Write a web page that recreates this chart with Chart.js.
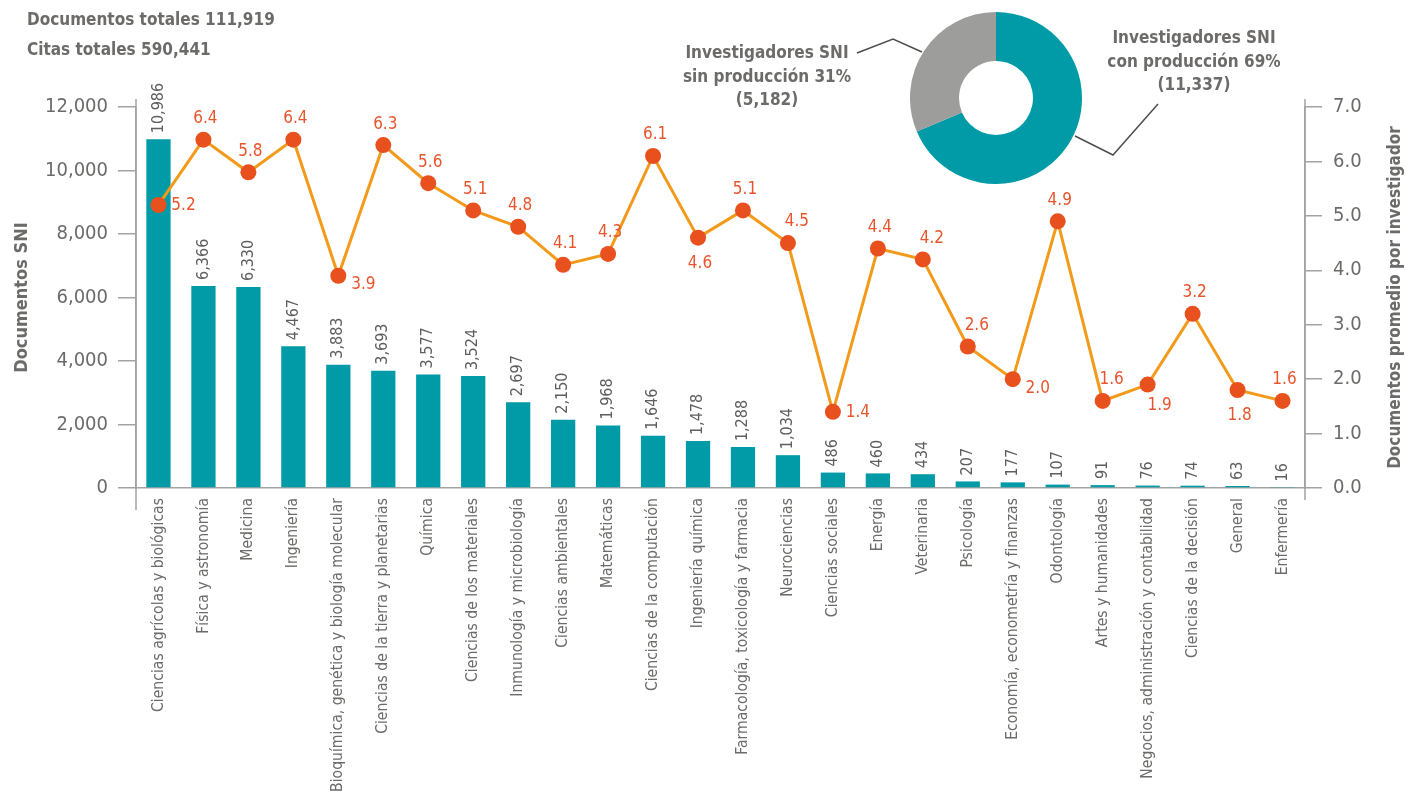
<!DOCTYPE html>
<html lang="es">
<head>
<meta charset="utf-8">
<title>Documentos SNI por área</title>
<script src="https://cdn.jsdelivr.net/npm/chart.js@4.4.1/dist/chart.umd.min.js"></script>
<style>
  body { margin: 0; background: #fff; }
  #wrap { position: relative; width: 1412px; height: 802px; overflow: hidden;
          font-family: 'Liberation Sans Narrow', 'DejaVu Sans Condensed', 'Roboto Condensed', 'Liberation Sans', sans-serif; }
  #main { position: absolute; left: 0; top: 0; }
  #dona { position: absolute; left: 910px; top: 12px; }
  .txt { position: absolute; color: #6d6b69; font-weight: bold; white-space: nowrap; }
  .totales { left: 27px; font-size: 17px; line-height: 30px; top: 4px; }
  .dlab { font-size: 17px; line-height: 23.5px; text-align: center; }
</style>
</head>
<body>
<div id="wrap">
  <canvas id="main" width="1412" height="802"></canvas>
  <canvas id="dona" width="172" height="172"></canvas>
  <div class="txt totales">Documentos totales 111,919<br>Citas totales 590,441</div>
  <div class="txt dlab" style="left:675px; top:41px; width:184px;">Investigadores SNI<br>sin producción 31%<br>(5,182)</div>
  <div class="txt dlab" style="left:1099px; top:26px; width:190px;">Investigadores SNI<br>con producción 69%<br>(11,337)</div>
</div>
<script>
// datos
const categorias = [
  'Ciencias agrícolas y biológicas', 'Física y astronomía', 'Medicina', 'Ingeniería',
  'Bioquímica, genética y biología molecular', 'Ciencias de la tierra y planetarias', 'Química',
  'Ciencias de los materiales', 'Inmunología y microbiología', 'Ciencias ambientales',
  'Matemáticas', 'Ciencias de la computación', 'Ingeniería química',
  'Farmacología, toxicología y farmacia', 'Neurociencias', 'Ciencias sociales', 'Energía',
  'Veterinaria', 'Psicología', 'Economía, econometría y finanzas', 'Odontología',
  'Artes y humanidades', 'Negocios, administración y contabilidad', 'Ciencias de la decisión',
  'General', 'Enfermería'
];
const documentosSNI = [10986, 6366, 6330, 4467, 3883, 3693, 3577, 3524, 2697, 2150, 1968, 1646,
  1478, 1288, 1034, 486, 460, 434, 207, 177, 107, 91, 76, 74, 63, 16];
const promedioInvestigador = [5.2, 6.4, 5.8, 6.4, 3.9, 6.3, 5.6, 5.1, 4.8, 4.1, 4.3, 6.1, 4.6, 5.1,
  4.5, 1.4, 4.4, 4.2, 2.6, 2.0, 4.9, 1.6, 1.9, 3.2, 1.8, 1.6];
const ticksIzq = [0, 2000, 4000, 6000, 8000, 10000, 12000];
const ticksDer = [0, 1, 2, 3, 4, 5, 6, 7];
const investigadoresLabels = ['con producción', 'sin producción'];
const investigadores = [11337, 5182];

// donde va cada etiqueta de la linea
const posEtiqueta = ['r', 't', 't', 't', 'rb', 't', 't', 't', 't', 't', 't', 't', 'b', 't',
  'tr', 'r', 't', 'tr', 'tr', 'rb', 't', 'tr', 'br', 't', 'b', 't'];

const FONT = "'Liberation Sans Narrow', 'DejaVu Sans Condensed', 'Roboto Condensed', 'Liberation Sans', sans-serif";
const GRIS = '#6d6b69';
const EJE = '#a3a3a3';
const TEAL = '#009ba6';

const offsets = {
  t: [2, -21], tr: [9, -21], r: [25, 1], rb: [25, 9], b: [2, 26], br: [12, 21]
};

const etiquetasPlugin = {
  id: 'etiquetas',
  afterDatasetsDraw(chart) {
    const ctx = chart.ctx;
    // valores de barras, rotados
    const barras = chart.getDatasetMeta(0).data;
    ctx.save();
    ctx.fillStyle = '#5e5e5e';
    ctx.font = '16px ' + FONT;
    ctx.textAlign = 'left';
    ctx.textBaseline = 'middle';
    barras.forEach((b, i) => {
      ctx.save();
      ctx.translate(b.x, b.y - 6);
      ctx.rotate(-Math.PI / 2);
      ctx.fillText(documentosSNI[i].toLocaleString('en-US'), 0, 0);
      ctx.restore();
    });
    // valores de la linea
    const puntos = chart.getDatasetMeta(1).data;
    ctx.fillStyle = '#e8552c';
    ctx.font = '17px ' + FONT;
    ctx.textAlign = 'center';
    puntos.forEach((p, i) => {
      const o = offsets[posEtiqueta[i]];
      ctx.fillText(promedioInvestigador[i].toFixed(1), p.x + o[0], p.y + o[1]);
    });
    ctx.restore();
  },
  afterDraw(chart) {
    const ctx = chart.ctx;
    const a = chart.chartArea;
    ctx.save();
    ctx.strokeStyle = EJE;
    ctx.lineWidth = 1.5;
    ctx.beginPath();
    ctx.moveTo(a.left, a.top - 8); ctx.lineTo(a.left, a.bottom + 22);
    ctx.moveTo(a.right, a.top - 8); ctx.lineTo(a.right, a.bottom + 12);
    ctx.stroke();
    // lineas guia de la dona
    ctx.strokeStyle = '#4d4d4d';
    ctx.lineWidth = 1.5;
    ctx.beginPath();
    ctx.moveTo(857, 53); ctx.lineTo(893, 39); ctx.lineTo(922, 52);
    ctx.moveTo(1075, 136); ctx.lineTo(1113, 155); ctx.lineTo(1158, 104);
    ctx.stroke();
    // titulos de ejes
    ctx.fillStyle = GRIS;
    ctx.font = 'bold 18px ' + FONT;
    ctx.textAlign = 'center';
    ctx.textBaseline = 'middle';
    const cy = (a.top + a.bottom) / 2;
    ctx.translate(22, cy);
    ctx.rotate(-Math.PI / 2);
    ctx.fillText('Documentos SNI', 0, 0);
    ctx.restore();
    ctx.save();
    ctx.fillStyle = GRIS;
    ctx.font = 'bold 17px ' + FONT;
    ctx.textAlign = 'center';
    ctx.textBaseline = 'middle';
    ctx.translate(1396, cy);
    ctx.rotate(-Math.PI / 2);
    ctx.fillText('Documentos promedio por investigador', 0, 0);
    ctx.restore();
  }
};

new Chart(document.getElementById('main'), {
  data: {
    labels: categorias,
    datasets: [{
      type: 'bar',
      label: 'Documentos SNI',
      data: documentosSNI,
      backgroundColor: TEAL,
      barPercentage: 0.54,
      categoryPercentage: 1,
      yAxisID: 'y',
      order: 2
    }, {
      type: 'line',
      label: 'Documentos promedio por investigador',
      data: promedioInvestigador,
      borderColor: '#f39a1b',
      borderWidth: 3,
      pointRadius: 8,
      pointBackgroundColor: '#e8501d',
      pointBorderWidth: 0,
      tension: 0,
      yAxisID: 'y1',
      order: 1
    }]
  },
  options: {
    responsive: false,
    animation: false,
    layout: { padding: { top: 107, left: 0, right: 0, bottom: 0 } },
    plugins: { legend: { display: false }, tooltip: { enabled: false } },
    scales: {
      x: {
        grid: { display: false },
        border: { display: true, color: EJE, width: 1.5 },
        ticks: {
          autoSkip: false, maxRotation: 90, minRotation: 90, padding: 2,
          color: GRIS, font: { family: FONT, size: 15.6 }
        },
        afterFit: s => { s.height = 314; }
      },
      y: {
        position: 'left',
        min: 0, max: 12000,
        afterBuildTicks: s => { s.ticks = ticksIzq.map(v => ({ value: v })); },
        grid: { drawOnChartArea: false, tickLength: 18, color: EJE, lineWidth: 1.5 },
        border: { display: true, color: EJE, width: 1.5 },
        ticks: {
          padding: 10, color: GRIS, font: { family: FONT, size: 20 },
          callback: v => v.toLocaleString('en-US')
        },
        afterFit: s => { s.width = 136; }
      },
      y1: {
        position: 'right',
        min: 0, max: 7,
        afterBuildTicks: s => { s.ticks = ticksDer.map(v => ({ value: v })); },
        grid: { drawOnChartArea: false, tickLength: 17, color: EJE, lineWidth: 1.5 },
        border: { display: true, color: EJE, width: 1.5 },
        ticks: {
          padding: 11, color: GRIS, font: { family: FONT, size: 20 },
          callback: v => v.toFixed(1)
        },
        afterFit: s => { s.width = 107; }
      }
    }
  },
  plugins: [etiquetasPlugin]
});

// dona de investigadores
new Chart(document.getElementById('dona'), {
  type: 'doughnut',
  data: {
    labels: investigadoresLabels,
    datasets: [{
      data: investigadores,
      backgroundColor: [TEAL, '#9d9d9c'],
      borderWidth: 0
    }]
  },
  options: {
    responsive: false,
    animation: false,
    cutout: '43%',
    plugins: { legend: { display: false }, tooltip: { enabled: false } }
  }
});
</script>
</body>
</html>
